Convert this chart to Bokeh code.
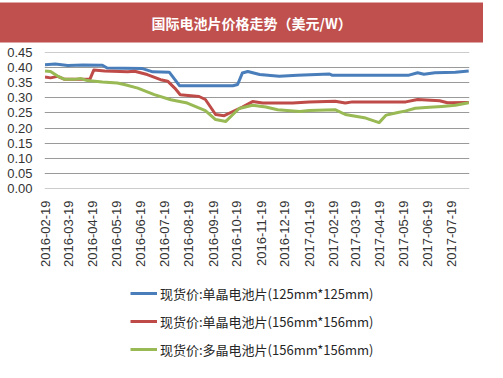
import math
import pandas as pd
from bokeh.plotting import figure
from bokeh.layouts import column
from bokeh.models import (Range1d, FixedTicker, DatetimeTickFormatter, NumeralTickFormatter,
                          Legend, LegendItem, ColumnDataSource, Title)
from bokeh.embed import file_html
from bokeh.resources import INLINE

title_text = "国际电池片价格走势（美元/W）"

# Series 1: 现货价:单晶电池片(125mm*125mm)
mono125_dates = ["2016-02-18", "2016-03-02", "2016-03-18", "2016-04-06", "2016-05-01", "2016-05-07",
                 "2016-06-21", "2016-07-04", "2016-07-25", "2016-08-01", "2016-08-07", "2016-10-14",
                 "2016-10-20", "2016-10-26", "2016-11-02", "2016-11-17", "2016-12-12", "2017-01-04",
                 "2017-02-14", "2017-02-17", "2017-05-26", "2017-06-06", "2017-06-14", "2017-06-28",
                 "2017-07-24", "2017-08-10"]
mono125_vals = [0.411, 0.413, 0.408, 0.410, 0.409, 0.400,
                0.398, 0.387, 0.386, 0.362, 0.341, 0.341,
                0.345, 0.383, 0.388, 0.378, 0.372, 0.376,
                0.380, 0.376, 0.376, 0.384, 0.379, 0.384,
                0.386, 0.390]

# Series 2: 现货价:单晶电池片(156mm*156mm)
mono156_dates = ["2016-02-18", "2016-02-25", "2016-03-05", "2016-03-14", "2016-04-15", "2016-04-20",
                 "2016-05-04", "2016-06-02", "2016-06-11", "2016-06-27", "2016-07-14", "2016-07-23",
                 "2016-08-01", "2016-08-08", "2016-09-01", "2016-09-09", "2016-09-22", "2016-10-03",
                 "2016-10-14", "2016-10-26", "2016-11-08", "2016-11-21", "2016-12-29", "2017-01-19",
                 "2017-02-21", "2017-03-06", "2017-03-15", "2017-05-22", "2017-06-06", "2017-07-04",
                 "2017-07-14", "2017-08-10"]
mono156_vals = [0.370, 0.367, 0.372, 0.362, 0.362, 0.393,
                0.390, 0.387, 0.389, 0.378, 0.361, 0.356,
                0.333, 0.311, 0.305, 0.295, 0.245, 0.241,
                0.255, 0.270, 0.288, 0.283, 0.283, 0.287,
                0.289, 0.283, 0.287, 0.287, 0.295, 0.291,
                0.284, 0.285]

# Series 3: 现货价:多晶电池片(156mm*156mm)
poly156_dates = ["2016-02-18", "2016-02-25", "2016-03-05", "2016-03-14", "2016-03-27", "2016-04-03",
                 "2016-04-12", "2016-05-01", "2016-05-20", "2016-05-30", "2016-06-15", "2016-07-06",
                 "2016-07-27", "2016-08-17", "2016-09-09", "2016-09-22", "2016-10-05", "2016-10-14",
                 "2016-10-22", "2016-11-08", "2016-11-25", "2016-12-10", "2017-01-07", "2017-01-19",
                 "2017-02-21", "2017-03-06", "2017-04-01", "2017-04-18", "2017-04-27", "2017-05-09",
                 "2017-05-22", "2017-06-03", "2017-06-21", "2017-07-07", "2017-07-24", "2017-08-10"]
poly156_vals = [0.390, 0.388, 0.373, 0.362, 0.362, 0.365,
                0.358, 0.353, 0.350, 0.344, 0.333, 0.311,
                0.294, 0.283, 0.258, 0.228, 0.222, 0.245,
                0.265, 0.276, 0.270, 0.261, 0.255, 0.258,
                0.261, 0.245, 0.233, 0.218, 0.243, 0.250,
                0.257, 0.266, 0.269, 0.272, 0.276, 0.284]

series_names = ["现货价:单晶电池片(125mm*125mm)",
                "现货价:单晶电池片(156mm*156mm)",
                "现货价:多晶电池片(156mm*156mm)"]
series_colors = ["#4A7EBB", "#BE4B48", "#98B954"]

x_tick_labels = ["2016-02-19", "2016-03-19", "2016-04-19", "2016-05-19", "2016-06-19", "2016-07-19",
                 "2016-08-19", "2016-09-19", "2016-10-19", "2016-11-19", "2016-12-19", "2017-01-19",
                 "2017-02-19", "2017-03-19", "2017-04-19", "2017-05-19", "2017-06-19", "2017-07-19"]
y_ticks = [0.00, 0.05, 0.10, 0.15, 0.20, 0.25, 0.30, 0.35, 0.40, 0.45]


def ms(s):
    return pd.Timestamp(s).value / 1e6


p = figure(frame_width=425, frame_height=136, x_axis_type="datetime",
           x_range=Range1d(ms("2016-02-17 08:00"), ms("2017-08-11")),
           y_range=Range1d(-0.0015, 0.4515),
           output_backend="svg", toolbar_location=None, title=None,
           min_border_left=44, min_border_right=14, min_border_top=0, min_border_bottom=0)
p.outline_line_color = None
p.background_fill_color = "white"
p.border_fill_color = "white"

# spacer between title bar and plot frame (added first -> nearest to frame)
spacer = Title(text=" ", text_font_size="2px", standoff=6, text_color="white")
p.add_layout(spacer, "above")

title = Title(text=title_text, align="left", offset=-60, vertical_align="bottom", standoff=0,
              text_color="white", text_font="Noto Sans CJK SC", text_font_size="14px",
              text_font_style="bold", background_fill_color="#C0504D",
              padding=dict(left=167, right=220, top=10, bottom=10))
p.add_layout(title, "above")

for d, v, c in zip([mono125_dates, mono156_dates, poly156_dates],
                   [mono125_vals, mono156_vals, poly156_vals], series_colors):
    src = ColumnDataSource(dict(x=pd.to_datetime(d), y=v))
    p.line("x", "y", source=src, line_color=c, line_width=3, line_join="round")

p.xaxis.ticker = FixedTicker(ticks=[ms(t) for t in x_tick_labels])
fmt = "%Y-%m-%d"
p.xaxis.formatter = DatetimeTickFormatter(microseconds=fmt, milliseconds=fmt, seconds=fmt,
                                          minsec=fmt, minutes=fmt, hourmin=fmt, hours=fmt,
                                          days=fmt, months=fmt, years=fmt)
p.xaxis.major_label_orientation = math.pi / 2
p.yaxis.ticker = FixedTicker(ticks=y_ticks)
p.yaxis.formatter = NumeralTickFormatter(format="0.00")

for ax in [p.xaxis, p.yaxis]:
    ax.axis_line_color = None
    ax.major_tick_line_color = None
    ax.minor_tick_line_color = None
    ax.major_tick_out = 0
    ax.major_tick_in = 0
    ax.major_label_text_color = "#333333"
    ax.major_label_text_font = "Liberation Sans"
p.xaxis.major_label_text_font_size = "13px"
p.yaxis.major_label_text_font_size = "13px"
p.xaxis.major_label_standoff = 12
p.yaxis.major_label_standoff = 12

p.xgrid.grid_line_color = None
p.ygrid.grid_line_color = "#9A9A9A"
p.ygrid.grid_line_width = 1

# ---- legend panel (separate small figure below the chart) ----
lf = figure(frame_width=425, frame_height=100, x_range=Range1d(0, 1), y_range=Range1d(0, 1),
            x_axis_location=None, y_axis_location=None,
            output_backend="svg", toolbar_location=None,
            min_border_left=44, min_border_right=14, min_border_top=0, min_border_bottom=0)
lf.grid.visible = False
lf.outline_line_color = None
lf.background_fill_color = "white"
lf.border_fill_color = "white"
# legend proxies: data lies outside the visible range, only the legend swatch shows
proxies = [lf.line(x=[5, 6], y=[5, 6], line_color=c, line_width=3) for c in series_colors]

legend = Legend(items=[LegendItem(label=n, renderers=[r]) for n, r in zip(series_names, proxies)],
                location=(86, 10), orientation="vertical",
                label_text_font="Noto Sans CJK SC", label_text_font_size="13px",
                label_text_color="#262626", glyph_width=27, glyph_height=20, label_height=20,
                spacing=8, label_standoff=3, border_line_color=None, background_fill_alpha=0,
                padding=4, margin=0)
lf.add_layout(legend, "center")

layout = column(p, lf, spacing=0)
open("out.html", "w").write(file_html(layout, INLINE))
